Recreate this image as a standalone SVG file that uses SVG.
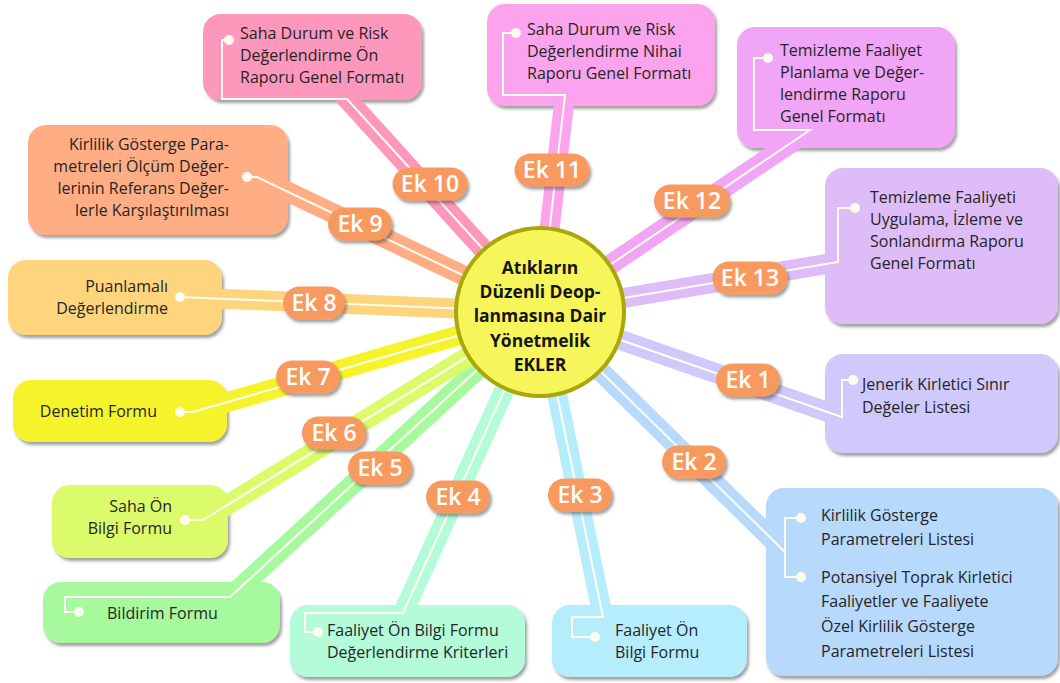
<svg xmlns="http://www.w3.org/2000/svg" width="1060" height="683" viewBox="0 0 1060 683">
  <defs>
    <style>
      .box { filter: url(#shadow); }
      .t { font-family: "Open Sans", "Noto Sans", sans-serif; font-size: 16px; fill: #262626; }
      .r { text-anchor: end; }
      .band { fill: none; stroke-width: 20; stroke-linecap: butt; }
      .wire { fill: none; stroke: #fffdf2; stroke-width: 2; }
      .dot { fill: #fffcee; }
      .pill { fill: #f89a61; filter: url(#shadow); }
      .ek { font-family: "Open Sans", "Noto Sans", sans-serif; font-size: 23px; font-weight: 600; fill: #ffffff; text-anchor: middle; }
      .hubtext { font-family: "Open Sans", "Noto Sans", sans-serif; font-size: 17.5px; font-weight: 700; fill: #141414; text-anchor: middle; }
    </style>
    <filter id="shadow" x="-10%" y="-10%" width="130%" height="140%">
      <feDropShadow dx="2" dy="3" stdDeviation="1.5" flood-color="#404040" flood-opacity="0.5"/>
    </filter>
    <!-- bands are hidden wherever they pass under a node box -->
    <mask id="outsideBoxes" maskUnits="userSpaceOnUse" x="0" y="0" width="1060" height="683">
      <rect x="0" y="0" width="1060" height="683" fill="#fff"/>
      <g fill="#000">
        <rect x="203" y="14" width="219" height="86" rx="18"/>
        <rect x="487" y="4" width="228" height="102" rx="18"/>
        <rect x="737" y="27" width="218" height="121" rx="18"/>
        <rect x="825" y="168" width="233" height="156" rx="18"/>
        <rect x="825" y="354" width="233" height="99" rx="18"/>
        <rect x="766" y="488" width="292" height="188" rx="18"/>
        <rect x="552" y="605" width="195" height="72" rx="18"/>
        <rect x="290" y="605" width="235" height="72" rx="18"/>
        <rect x="43" y="582" width="237" height="61" rx="18"/>
        <rect x="52" y="485" width="176" height="73" rx="18"/>
        <rect x="13" y="380" width="214" height="62" rx="18"/>
        <rect x="8" y="260" width="214" height="75" rx="18"/>
        <rect x="28" y="125" width="260" height="110" rx="18"/>
      </g>
    </mask>
  </defs>

  <rect x="0" y="0" width="1060" height="683" fill="#ffffff"/>

  <!-- annex boxes -->
  <g id="ek10">
    <rect class="box" x="203" y="14" width="219" height="86" rx="18" fill="#fe97bc"/>
    <text class="t" x="240" y="39">Saha Durum ve Risk</text>
    <text class="t" x="240" y="61">Değerlendirme Ön</text>
    <text class="t" x="240" y="83">Raporu Genel Formatı</text>
  </g>
  <g id="ek11">
    <rect class="box" x="487" y="4" width="228" height="102" rx="18" fill="#fca3ee"/>
    <text class="t" x="527" y="35">Saha Durum ve Risk</text>
    <text class="t" x="527" y="57">Değerlendirme Nihai</text>
    <text class="t" x="527" y="79">Raporu Genel Formatı</text>
  </g>
  <g id="ek12">
    <rect class="box" x="737" y="27" width="218" height="121" rx="18" fill="#f0a5f7"/>
    <text class="t" x="780" y="56">Temizleme Faaliyet</text>
    <text class="t" x="780" y="78">Planlama ve Değer-</text>
    <text class="t" x="780" y="100">lendirme Raporu</text>
    <text class="t" x="780" y="122">Genel Formatı</text>
  </g>
  <g id="ek13">
    <rect class="box" x="825" y="168" width="233" height="156" rx="18" fill="#ddbcf8"/>
    <text class="t" x="870" y="203">Temizleme Faaliyeti</text>
    <text class="t" x="870" y="225">Uygulama, İzleme ve</text>
    <text class="t" x="870" y="247">Sonlandırma Raporu</text>
    <text class="t" x="870" y="269">Genel Formatı</text>
  </g>
  <g id="ek1">
    <rect class="box" x="825" y="354" width="233" height="99" rx="18" fill="#cfc9fc"/>
    <text class="t" x="862" y="390">Jenerik Kirletici Sınır</text>
    <text class="t" x="862" y="413">Değeler Listesi</text>
  </g>
  <g id="ek2">
    <rect class="box" x="766" y="488" width="292" height="188" rx="18" fill="#b6d9fc"/>
    <text class="t" x="821" y="521">Kirlilik Gösterge</text>
    <text class="t" x="821" y="545">Parametreleri Listesi</text>
    <text class="t" x="821" y="583">Potansiyel Toprak Kirletici</text>
    <text class="t" x="821" y="607">Faaliyetler ve Faaliyete</text>
    <text class="t" x="821" y="632">Özel Kirlilik Gösterge</text>
    <text class="t" x="821" y="657">Parametreleri Listesi</text>
  </g>
  <g id="ek3">
    <rect class="box" x="552" y="605" width="195" height="72" rx="18" fill="#b6edfd"/>
    <text class="t" x="615" y="636">Faaliyet Ön</text>
    <text class="t" x="615" y="658">Bilgi Formu</text>
  </g>
  <g id="ek4">
    <rect class="box" x="290" y="605" width="235" height="72" rx="18" fill="#b3fbd9"/>
    <text class="t" x="327" y="636">Faaliyet Ön Bilgi Formu</text>
    <text class="t" x="327" y="658">Değerlendirme Kriterleri</text>
  </g>
  <g id="ek5">
    <rect class="box" x="43" y="582" width="237" height="61" rx="18" fill="#a6fa9d"/>
    <text class="t" x="107" y="619">Bildirim Formu</text>
  </g>
  <g id="ek6">
    <rect class="box" x="52" y="485" width="176" height="73" rx="18" fill="#dcfb6b"/>
    <text class="t r" x="172" y="512">Saha Ön</text>
    <text class="t r" x="172" y="534">Bilgi Formu</text>
  </g>
  <g id="ek7">
    <rect class="box" x="13" y="380" width="214" height="62" rx="18" fill="#f5f42c"/>
    <text class="t r" x="157" y="417">Denetim Formu</text>
  </g>
  <g id="ek8">
    <rect class="box" x="8" y="260" width="214" height="75" rx="18" fill="#fed57c"/>
    <text class="t r" x="168" y="292">Puanlamalı</text>
    <text class="t r" x="168" y="314">Değerlendirme</text>
  </g>
  <g id="ek9">
    <rect class="box" x="28" y="125" width="260" height="110" rx="18" fill="#fead85"/>
    <text class="t r" x="229" y="150">Kirlilik Gösterge Para-</text>
    <text class="t r" x="229" y="172">metreleri Ölçüm Değer-</text>
    <text class="t r" x="229" y="194">lerinin Referans Değer-</text>
    <text class="t r" x="229" y="216">lerle Karşılaştırılması</text>
  </g>

  <!-- spokes from each box to the hub -->
  <g id="connectors">
    <g mask="url(#outsideBoxes)">
      <line class="band" x1="337.6" y1="88.6" x2="540" y2="312" stroke="#fe97bc"/>
      <line class="band" x1="566.6" y1="81.1" x2="540" y2="312" stroke="#fca3ee"/>
      <line class="band" x1="821.6" y1="122.2" x2="540" y2="312" stroke="#f0a5f7"/>
      <line class="band" x1="851.8" y1="259.7" x2="540" y2="312" stroke="#ddbcf8"/>
      <line class="band" x1="855.2" y1="421.6" x2="540" y2="312" stroke="#cfc9fc"/>
      <line class="band" x1="795" y1="561.8" x2="540" y2="312" stroke="#b6d9fc"/>
      <line class="band" x1="605.8" y1="630.7" x2="540" y2="312" stroke="#b6edfd"/>
      <line class="band" x1="397.2" y1="625.7" x2="540" y2="312" stroke="#b3fbd9"/>
      <line class="band" x1="219.7" y1="606.5" x2="540" y2="312" stroke="#a6fa9d"/>
      <line class="band" x1="191.1" y1="527.4" x2="540" y2="312" stroke="#dcfb6b"/>
      <line class="band" x1="179.5" y1="415.9" x2="540" y2="312" stroke="#f5f42c"/>
      <line class="band" x1="166" y1="296.4" x2="540" y2="312" stroke="#fed57c"/>
      <line class="band" x1="244.4" y1="171" x2="540" y2="312" stroke="#fead85"/>
    </g>

    <g id="wires">
      <path class="wire" d="M229,40 H222 V99 H347 L540,312"/>
      <path class="wire" d="M516,33 H503 V95 H565 L540,312"/>
      <path class="wire" d="M768,58 H754 V130 H810 L540,312"/>
      <path class="wire" d="M855,208 H838 V262 L540,312"/>
      <path class="wire" d="M853,380 H842 V417 L540,312"/>
      <path class="wire" d="M801,518 H785 V577 H801 M785,552 L540,312"/>
      <path class="wire" d="M595,637 H572 V617 H603 L540,312"/>
      <path class="wire" d="M318,632 H305 V613 H403 L540,312"/>
      <path class="wire" d="M79,612 H65 V597 H230 L540,312"/>
      <path class="wire" d="M185,520 H203 L540,312"/>
      <path class="wire" d="M180,412 H193 L540,312"/>
      <path class="wire" d="M180,297 L540,312"/>
      <path class="wire" d="M247,177 H257 L540,312"/>
    </g>

    <g id="dots">
      <circle class="dot" cx="229" cy="40" r="5"/>
      <circle class="dot" cx="516" cy="33" r="5"/>
      <circle class="dot" cx="768" cy="58" r="5"/>
      <circle class="dot" cx="855" cy="208" r="5"/>
      <circle class="dot" cx="853" cy="380" r="5"/>
      <circle class="dot" cx="801" cy="518" r="5"/>
      <circle class="dot" cx="801" cy="577" r="5"/>
      <circle class="dot" cx="595" cy="637" r="5"/>
      <circle class="dot" cx="318" cy="632" r="5"/>
      <circle class="dot" cx="79" cy="612" r="5"/>
      <circle class="dot" cx="185" cy="520" r="5"/>
      <circle class="dot" cx="180" cy="412" r="5"/>
      <circle class="dot" cx="180" cy="297" r="5"/>
      <circle class="dot" cx="247" cy="177" r="5"/>
    </g>

    <!-- annex number tags on the spokes -->
    <g id="tags">
      <rect class="pill" x="392.5" y="167.5" width="75" height="33" rx="16.5"/>
      <text class="ek" x="430" y="192">Ek 10</text>
      <rect class="pill" x="514.5" y="153.5" width="75" height="33" rx="16.5"/>
      <text class="ek" x="552" y="178">Ek 11</text>
      <rect class="pill" x="654" y="184.5" width="76" height="33" rx="16.5"/>
      <text class="ek" x="692" y="209">Ek 12</text>
      <rect class="pill" x="712.5" y="261.5" width="75" height="33" rx="16.5"/>
      <text class="ek" x="750" y="286">Ek 13</text>
      <rect class="pill" x="716" y="363.5" width="64" height="33" rx="16.5"/>
      <text class="ek" x="748" y="388">Ek 1</text>
      <rect class="pill" x="662" y="445.5" width="64" height="33" rx="16.5"/>
      <text class="ek" x="694" y="470">Ek 2</text>
      <rect class="pill" x="548" y="478.5" width="64" height="33" rx="16.5"/>
      <text class="ek" x="580" y="503">Ek 3</text>
      <rect class="pill" x="426" y="480.5" width="64" height="33" rx="16.5"/>
      <text class="ek" x="458" y="505">Ek 4</text>
      <rect class="pill" x="348" y="451.5" width="64" height="33" rx="16.5"/>
      <text class="ek" x="380" y="476">Ek 5</text>
      <rect class="pill" x="302" y="416.5" width="64" height="33" rx="16.5"/>
      <text class="ek" x="334" y="441">Ek 6</text>
      <rect class="pill" x="276" y="360.5" width="64" height="33" rx="16.5"/>
      <text class="ek" x="308" y="385">Ek 7</text>
      <rect class="pill" x="283" y="286.5" width="62" height="33" rx="16.5"/>
      <text class="ek" x="314" y="311">Ek 8</text>
      <rect class="pill" x="328" y="207.5" width="64" height="33" rx="16.5"/>
      <text class="ek" x="360" y="232">Ek 9</text>
    </g>
  </g>

  <!-- central hub -->
  <g id="hub">
    <circle cx="540" cy="312" r="84" fill="#f6f65a" stroke="#a9a70b" stroke-width="4"/>
    <text class="hubtext" x="540" y="274">Atıkların</text>
    <text class="hubtext" x="540" y="298">Düzenli Deop-</text>
    <text class="hubtext" x="540" y="322">lanmasına Dair</text>
    <text class="hubtext" x="540" y="347">Yönetmelik</text>
    <text class="hubtext" x="540" y="371">EKLER</text>
  </g>
</svg>
